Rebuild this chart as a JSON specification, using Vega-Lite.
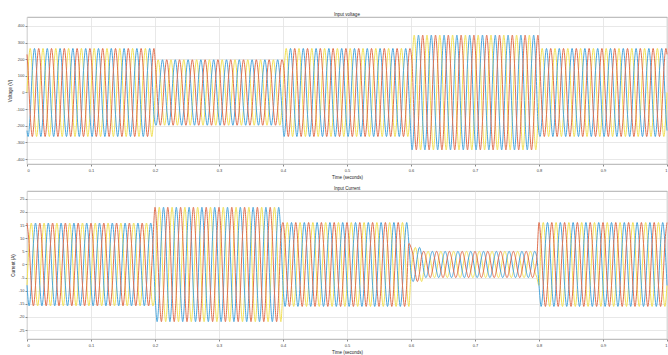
{
"$schema":"https://vega.github.io/schema/vega-lite/v6.json",
"background":"white",
"padding":{"left":7,"top":11,"right":2,"bottom":1},
"spacing":6,
"config":{
"locale":{"number":{"decimal":".","thousands":",","grouping":[3],"currency":["$",""],"minus":"-"}},
"view":{"stroke":"#9a9a9a","strokeWidth":0.8},
"axis":{"labelFont":"Liberation Sans","labelFontSize":4,"labelColor":"#444","titleFont":"Liberation Sans","titleFontSize":4.5,"titleFontWeight":"normal","titleColor":"#222","gridColor":"#e2e2e2","gridWidth":0.8,"domain":false,"tickColor":"#888","tickSize":2,"labelPadding":1},
"title":{"font":"Liberation Sans","fontSize":4.5,"fontWeight":"normal","color":"#222","offset":1}
},
"datasets":{
"v":[
{"t":0,"a":0,"b":-229,"c":229},
{"t":0.0017,"a":133,"b":-265,"c":133},{"t":0.005,"a":265,"b":-133,"c":-133},{"t":0.0083,"a":133,"b":133,"c":-265},{"t":0.0117,"a":-133,"b":265,"c":-133},{"t":0.015,"a":-265,"b":133,"c":133},{"t":0.0183,"a":-133,"b":-133,"c":265},
{"t":0.0217,"a":133,"b":-265,"c":133},{"t":0.025,"a":265,"b":-133,"c":-133},{"t":0.0283,"a":133,"b":133,"c":-265},{"t":0.0317,"a":-133,"b":265,"c":-133},{"t":0.035,"a":-265,"b":133,"c":133},{"t":0.0383,"a":-133,"b":-133,"c":265},
{"t":0.0417,"a":133,"b":-265,"c":133},{"t":0.045,"a":265,"b":-133,"c":-133},{"t":0.0483,"a":133,"b":133,"c":-265},{"t":0.0517,"a":-133,"b":265,"c":-133},{"t":0.055,"a":-265,"b":133,"c":133},{"t":0.0583,"a":-133,"b":-133,"c":265},
{"t":0.0617,"a":133,"b":-265,"c":133},{"t":0.065,"a":265,"b":-133,"c":-133},{"t":0.0683,"a":133,"b":133,"c":-265},{"t":0.0717,"a":-133,"b":265,"c":-133},{"t":0.075,"a":-265,"b":133,"c":133},{"t":0.0783,"a":-133,"b":-133,"c":265},
{"t":0.0817,"a":133,"b":-265,"c":133},{"t":0.085,"a":265,"b":-133,"c":-133},{"t":0.0883,"a":133,"b":133,"c":-265},{"t":0.0917,"a":-133,"b":265,"c":-133},{"t":0.095,"a":-265,"b":133,"c":133},{"t":0.0983,"a":-133,"b":-133,"c":265},
{"t":0.1017,"a":133,"b":-265,"c":133},{"t":0.105,"a":265,"b":-133,"c":-133},{"t":0.1083,"a":133,"b":133,"c":-265},{"t":0.1117,"a":-133,"b":265,"c":-133},{"t":0.115,"a":-265,"b":133,"c":133},{"t":0.1183,"a":-133,"b":-133,"c":265},
{"t":0.1217,"a":133,"b":-265,"c":133},{"t":0.125,"a":265,"b":-133,"c":-133},{"t":0.1283,"a":133,"b":133,"c":-265},{"t":0.1317,"a":-133,"b":265,"c":-133},{"t":0.135,"a":-265,"b":133,"c":133},{"t":0.1383,"a":-133,"b":-133,"c":265},
{"t":0.1417,"a":133,"b":-265,"c":133},{"t":0.145,"a":265,"b":-133,"c":-133},{"t":0.1483,"a":133,"b":133,"c":-265},{"t":0.1517,"a":-133,"b":265,"c":-133},{"t":0.155,"a":-265,"b":133,"c":133},{"t":0.1583,"a":-133,"b":-133,"c":265},
{"t":0.1617,"a":133,"b":-265,"c":133},{"t":0.165,"a":265,"b":-133,"c":-133},{"t":0.1683,"a":133,"b":133,"c":-265},{"t":0.1717,"a":-133,"b":265,"c":-133},{"t":0.175,"a":-265,"b":133,"c":133},{"t":0.1783,"a":-133,"b":-133,"c":265},
{"t":0.1817,"a":133,"b":-265,"c":133},{"t":0.185,"a":265,"b":-133,"c":-133},{"t":0.1883,"a":133,"b":133,"c":-265},{"t":0.1917,"a":-133,"b":265,"c":-133},{"t":0.195,"a":-265,"b":133,"c":133},{"t":0.1983,"a":-133,"b":-133,"c":265},
{"t":0.2017,"a":99,"b":-197,"c":99},{"t":0.205,"a":197,"b":-99,"c":-99},{"t":0.2083,"a":99,"b":99,"c":-197},{"t":0.2117,"a":-99,"b":197,"c":-99},{"t":0.215,"a":-197,"b":99,"c":99},{"t":0.2183,"a":-99,"b":-99,"c":197},
{"t":0.2217,"a":99,"b":-197,"c":99},{"t":0.225,"a":197,"b":-99,"c":-99},{"t":0.2283,"a":99,"b":99,"c":-197},{"t":0.2317,"a":-99,"b":197,"c":-99},{"t":0.235,"a":-197,"b":99,"c":99},{"t":0.2383,"a":-99,"b":-99,"c":197},
{"t":0.2417,"a":99,"b":-197,"c":99},{"t":0.245,"a":197,"b":-99,"c":-99},{"t":0.2483,"a":99,"b":99,"c":-197},{"t":0.2517,"a":-99,"b":197,"c":-99},{"t":0.255,"a":-197,"b":99,"c":99},{"t":0.2583,"a":-99,"b":-99,"c":197},
{"t":0.2617,"a":99,"b":-197,"c":99},{"t":0.265,"a":197,"b":-99,"c":-99},{"t":0.2683,"a":99,"b":99,"c":-197},{"t":0.2717,"a":-99,"b":197,"c":-99},{"t":0.275,"a":-197,"b":99,"c":99},{"t":0.2783,"a":-99,"b":-99,"c":197},
{"t":0.2817,"a":99,"b":-197,"c":99},{"t":0.285,"a":197,"b":-99,"c":-99},{"t":0.2883,"a":99,"b":99,"c":-197},{"t":0.2917,"a":-99,"b":197,"c":-99},{"t":0.295,"a":-197,"b":99,"c":99},{"t":0.2983,"a":-99,"b":-99,"c":197},
{"t":0.3017,"a":99,"b":-197,"c":99},{"t":0.305,"a":197,"b":-99,"c":-99},{"t":0.3083,"a":99,"b":99,"c":-197},{"t":0.3117,"a":-99,"b":197,"c":-99},{"t":0.315,"a":-197,"b":99,"c":99},{"t":0.3183,"a":-99,"b":-99,"c":197},
{"t":0.3217,"a":99,"b":-197,"c":99},{"t":0.325,"a":197,"b":-99,"c":-99},{"t":0.3283,"a":99,"b":99,"c":-197},{"t":0.3317,"a":-99,"b":197,"c":-99},{"t":0.335,"a":-197,"b":99,"c":99},{"t":0.3383,"a":-99,"b":-99,"c":197},
{"t":0.3417,"a":99,"b":-197,"c":99},{"t":0.345,"a":197,"b":-99,"c":-99},{"t":0.3483,"a":99,"b":99,"c":-197},{"t":0.3517,"a":-99,"b":197,"c":-99},{"t":0.355,"a":-197,"b":99,"c":99},{"t":0.3583,"a":-99,"b":-99,"c":197},
{"t":0.3617,"a":99,"b":-197,"c":99},{"t":0.365,"a":197,"b":-99,"c":-99},{"t":0.3683,"a":99,"b":99,"c":-197},{"t":0.3717,"a":-99,"b":197,"c":-99},{"t":0.375,"a":-197,"b":99,"c":99},{"t":0.3783,"a":-99,"b":-99,"c":197},
{"t":0.3817,"a":99,"b":-197,"c":99},{"t":0.385,"a":197,"b":-99,"c":-99},{"t":0.3883,"a":99,"b":99,"c":-197},{"t":0.3917,"a":-99,"b":197,"c":-99},{"t":0.395,"a":-197,"b":99,"c":99},{"t":0.3983,"a":-99,"b":-99,"c":197},
{"t":0.4017,"a":133,"b":-265,"c":133},{"t":0.405,"a":265,"b":-133,"c":-133},{"t":0.4083,"a":133,"b":133,"c":-265},{"t":0.4117,"a":-133,"b":265,"c":-133},{"t":0.415,"a":-265,"b":133,"c":133},{"t":0.4183,"a":-133,"b":-133,"c":265},
{"t":0.4217,"a":133,"b":-265,"c":133},{"t":0.425,"a":265,"b":-133,"c":-133},{"t":0.4283,"a":133,"b":133,"c":-265},{"t":0.4317,"a":-133,"b":265,"c":-133},{"t":0.435,"a":-265,"b":133,"c":133},{"t":0.4383,"a":-133,"b":-133,"c":265},
{"t":0.4417,"a":133,"b":-265,"c":133},{"t":0.445,"a":265,"b":-133,"c":-133},{"t":0.4483,"a":133,"b":133,"c":-265},{"t":0.4517,"a":-133,"b":265,"c":-133},{"t":0.455,"a":-265,"b":133,"c":133},{"t":0.4583,"a":-133,"b":-133,"c":265},
{"t":0.4617,"a":133,"b":-265,"c":133},{"t":0.465,"a":265,"b":-133,"c":-133},{"t":0.4683,"a":133,"b":133,"c":-265},{"t":0.4717,"a":-133,"b":265,"c":-133},{"t":0.475,"a":-265,"b":133,"c":133},{"t":0.4783,"a":-133,"b":-133,"c":265},
{"t":0.4817,"a":133,"b":-265,"c":133},{"t":0.485,"a":265,"b":-133,"c":-133},{"t":0.4883,"a":133,"b":133,"c":-265},{"t":0.4917,"a":-133,"b":265,"c":-133},{"t":0.495,"a":-265,"b":133,"c":133},{"t":0.4983,"a":-133,"b":-133,"c":265},
{"t":0.5017,"a":133,"b":-265,"c":133},{"t":0.505,"a":265,"b":-133,"c":-133},{"t":0.5083,"a":133,"b":133,"c":-265},{"t":0.5117,"a":-133,"b":265,"c":-133},{"t":0.515,"a":-265,"b":133,"c":133},{"t":0.5183,"a":-133,"b":-133,"c":265},
{"t":0.5217,"a":133,"b":-265,"c":133},{"t":0.525,"a":265,"b":-133,"c":-133},{"t":0.5283,"a":133,"b":133,"c":-265},{"t":0.5317,"a":-133,"b":265,"c":-133},{"t":0.535,"a":-265,"b":133,"c":133},{"t":0.5383,"a":-133,"b":-133,"c":265},
{"t":0.5417,"a":133,"b":-265,"c":133},{"t":0.545,"a":265,"b":-133,"c":-133},{"t":0.5483,"a":133,"b":133,"c":-265},{"t":0.5517,"a":-133,"b":265,"c":-133},{"t":0.555,"a":-265,"b":133,"c":133},{"t":0.5583,"a":-133,"b":-133,"c":265},
{"t":0.5617,"a":133,"b":-265,"c":133},{"t":0.565,"a":265,"b":-133,"c":-133},{"t":0.5683,"a":133,"b":133,"c":-265},{"t":0.5717,"a":-133,"b":265,"c":-133},{"t":0.575,"a":-265,"b":133,"c":133},{"t":0.5783,"a":-133,"b":-133,"c":265},
{"t":0.5817,"a":133,"b":-265,"c":133},{"t":0.585,"a":265,"b":-133,"c":-133},{"t":0.5883,"a":133,"b":133,"c":-265},{"t":0.5917,"a":-133,"b":265,"c":-133},{"t":0.595,"a":-265,"b":133,"c":133},{"t":0.5983,"a":-133,"b":-133,"c":265},
{"t":0.6017,"a":173,"b":-345,"c":173},{"t":0.605,"a":345,"b":-173,"c":-173},{"t":0.6083,"a":173,"b":173,"c":-345},{"t":0.6117,"a":-173,"b":345,"c":-173},{"t":0.615,"a":-345,"b":173,"c":173},{"t":0.6183,"a":-173,"b":-173,"c":345},
{"t":0.6217,"a":173,"b":-345,"c":173},{"t":0.625,"a":345,"b":-173,"c":-173},{"t":0.6283,"a":173,"b":173,"c":-345},{"t":0.6317,"a":-173,"b":345,"c":-173},{"t":0.635,"a":-345,"b":173,"c":173},{"t":0.6383,"a":-173,"b":-173,"c":345},
{"t":0.6417,"a":173,"b":-345,"c":173},{"t":0.645,"a":345,"b":-173,"c":-173},{"t":0.6483,"a":173,"b":173,"c":-345},{"t":0.6517,"a":-173,"b":345,"c":-173},{"t":0.655,"a":-345,"b":173,"c":173},{"t":0.6583,"a":-173,"b":-173,"c":345},
{"t":0.6617,"a":173,"b":-345,"c":173},{"t":0.665,"a":345,"b":-173,"c":-173},{"t":0.6683,"a":173,"b":173,"c":-345},{"t":0.6717,"a":-173,"b":345,"c":-173},{"t":0.675,"a":-345,"b":173,"c":173},{"t":0.6783,"a":-173,"b":-173,"c":345},
{"t":0.6817,"a":173,"b":-345,"c":173},{"t":0.685,"a":345,"b":-173,"c":-173},{"t":0.6883,"a":173,"b":173,"c":-345},{"t":0.6917,"a":-173,"b":345,"c":-173},{"t":0.695,"a":-345,"b":173,"c":173},{"t":0.6983,"a":-173,"b":-173,"c":345},
{"t":0.7017,"a":173,"b":-345,"c":173},{"t":0.705,"a":345,"b":-173,"c":-173},{"t":0.7083,"a":173,"b":173,"c":-345},{"t":0.7117,"a":-173,"b":345,"c":-173},{"t":0.715,"a":-345,"b":173,"c":173},{"t":0.7183,"a":-173,"b":-173,"c":345},
{"t":0.7217,"a":173,"b":-345,"c":173},{"t":0.725,"a":345,"b":-173,"c":-173},{"t":0.7283,"a":173,"b":173,"c":-345},{"t":0.7317,"a":-173,"b":345,"c":-173},{"t":0.735,"a":-345,"b":173,"c":173},{"t":0.7383,"a":-173,"b":-173,"c":345},
{"t":0.7417,"a":173,"b":-345,"c":173},{"t":0.745,"a":345,"b":-173,"c":-173},{"t":0.7483,"a":173,"b":173,"c":-345},{"t":0.7517,"a":-173,"b":345,"c":-173},{"t":0.755,"a":-345,"b":173,"c":173},{"t":0.7583,"a":-173,"b":-173,"c":345},
{"t":0.7617,"a":173,"b":-345,"c":173},{"t":0.765,"a":345,"b":-173,"c":-173},{"t":0.7683,"a":173,"b":173,"c":-345},{"t":0.7717,"a":-173,"b":345,"c":-173},{"t":0.775,"a":-345,"b":173,"c":173},{"t":0.7783,"a":-173,"b":-173,"c":345},
{"t":0.7817,"a":173,"b":-345,"c":173},{"t":0.785,"a":345,"b":-173,"c":-173},{"t":0.7883,"a":173,"b":173,"c":-345},{"t":0.7917,"a":-173,"b":345,"c":-173},{"t":0.795,"a":-345,"b":173,"c":173},{"t":0.7983,"a":-173,"b":-173,"c":345},
{"t":0.8017,"a":133,"b":-265,"c":133},{"t":0.805,"a":265,"b":-133,"c":-133},{"t":0.8083,"a":133,"b":133,"c":-265},{"t":0.8117,"a":-133,"b":265,"c":-133},{"t":0.815,"a":-265,"b":133,"c":133},{"t":0.8183,"a":-133,"b":-133,"c":265},
{"t":0.8217,"a":133,"b":-265,"c":133},{"t":0.825,"a":265,"b":-133,"c":-133},{"t":0.8283,"a":133,"b":133,"c":-265},{"t":0.8317,"a":-133,"b":265,"c":-133},{"t":0.835,"a":-265,"b":133,"c":133},{"t":0.8383,"a":-133,"b":-133,"c":265},
{"t":0.8417,"a":133,"b":-265,"c":133},{"t":0.845,"a":265,"b":-133,"c":-133},{"t":0.8483,"a":133,"b":133,"c":-265},{"t":0.8517,"a":-133,"b":265,"c":-133},{"t":0.855,"a":-265,"b":133,"c":133},{"t":0.8583,"a":-133,"b":-133,"c":265},
{"t":0.8617,"a":133,"b":-265,"c":133},{"t":0.865,"a":265,"b":-133,"c":-133},{"t":0.8683,"a":133,"b":133,"c":-265},{"t":0.8717,"a":-133,"b":265,"c":-133},{"t":0.875,"a":-265,"b":133,"c":133},{"t":0.8783,"a":-133,"b":-133,"c":265},
{"t":0.8817,"a":133,"b":-265,"c":133},{"t":0.885,"a":265,"b":-133,"c":-133},{"t":0.8883,"a":133,"b":133,"c":-265},{"t":0.8917,"a":-133,"b":265,"c":-133},{"t":0.895,"a":-265,"b":133,"c":133},{"t":0.8983,"a":-133,"b":-133,"c":265},
{"t":0.9017,"a":133,"b":-265,"c":133},{"t":0.905,"a":265,"b":-133,"c":-133},{"t":0.9083,"a":133,"b":133,"c":-265},{"t":0.9117,"a":-133,"b":265,"c":-133},{"t":0.915,"a":-265,"b":133,"c":133},{"t":0.9183,"a":-133,"b":-133,"c":265},
{"t":0.9217,"a":133,"b":-265,"c":133},{"t":0.925,"a":265,"b":-133,"c":-133},{"t":0.9283,"a":133,"b":133,"c":-265},{"t":0.9317,"a":-133,"b":265,"c":-133},{"t":0.935,"a":-265,"b":133,"c":133},{"t":0.9383,"a":-133,"b":-133,"c":265},
{"t":0.9417,"a":133,"b":-265,"c":133},{"t":0.945,"a":265,"b":-133,"c":-133},{"t":0.9483,"a":133,"b":133,"c":-265},{"t":0.9517,"a":-133,"b":265,"c":-133},{"t":0.955,"a":-265,"b":133,"c":133},{"t":0.9583,"a":-133,"b":-133,"c":265},
{"t":0.9617,"a":133,"b":-265,"c":133},{"t":0.965,"a":265,"b":-133,"c":-133},{"t":0.9683,"a":133,"b":133,"c":-265},{"t":0.9717,"a":-133,"b":265,"c":-133},{"t":0.975,"a":-265,"b":133,"c":133},{"t":0.9783,"a":-133,"b":-133,"c":265},
{"t":0.9817,"a":133,"b":-265,"c":133},{"t":0.985,"a":265,"b":-133,"c":-133},{"t":0.9883,"a":133,"b":133,"c":-265},{"t":0.9917,"a":-133,"b":265,"c":-133},{"t":0.995,"a":-265,"b":133,"c":133},{"t":0.9983,"a":-133,"b":-133,"c":265},
{"t":1,"a":0,"b":-229,"c":229}
],
"i":[
{"t":0,"a":-7.9,"b":-7.9,"c":15.8},{"t":0.0033,"a":7.9,"b":-15.8,"c":7.9},{"t":0.0067,"a":15.8,"b":-7.9,"c":-7.9},{"t":0.01,"a":7.9,"b":7.9,"c":-15.8},{"t":0.0133,"a":-7.9,"b":15.8,"c":-7.9},{"t":0.0167,"a":-15.8,"b":7.9,"c":7.9},
{"t":0.02,"a":-7.9,"b":-7.9,"c":15.8},{"t":0.0233,"a":7.9,"b":-15.8,"c":7.9},{"t":0.0267,"a":15.8,"b":-7.9,"c":-7.9},{"t":0.03,"a":7.9,"b":7.9,"c":-15.8},{"t":0.0333,"a":-7.9,"b":15.8,"c":-7.9},{"t":0.0367,"a":-15.8,"b":7.9,"c":7.9},
{"t":0.04,"a":-7.9,"b":-7.9,"c":15.8},{"t":0.0433,"a":7.9,"b":-15.8,"c":7.9},{"t":0.0467,"a":15.8,"b":-7.9,"c":-7.9},{"t":0.05,"a":7.9,"b":7.9,"c":-15.8},{"t":0.0533,"a":-7.9,"b":15.8,"c":-7.9},{"t":0.0567,"a":-15.8,"b":7.9,"c":7.9},
{"t":0.06,"a":-7.9,"b":-7.9,"c":15.8},{"t":0.0633,"a":7.9,"b":-15.8,"c":7.9},{"t":0.0667,"a":15.8,"b":-7.9,"c":-7.9},{"t":0.07,"a":7.9,"b":7.9,"c":-15.8},{"t":0.0733,"a":-7.9,"b":15.8,"c":-7.9},{"t":0.0767,"a":-15.8,"b":7.9,"c":7.9},
{"t":0.08,"a":-7.9,"b":-7.9,"c":15.8},{"t":0.0833,"a":7.9,"b":-15.8,"c":7.9},{"t":0.0867,"a":15.8,"b":-7.9,"c":-7.9},{"t":0.09,"a":7.9,"b":7.9,"c":-15.8},{"t":0.0933,"a":-7.9,"b":15.8,"c":-7.9},{"t":0.0967,"a":-15.8,"b":7.9,"c":7.9},
{"t":0.1,"a":-7.9,"b":-7.9,"c":15.8},{"t":0.1033,"a":7.9,"b":-15.8,"c":7.9},{"t":0.1067,"a":15.8,"b":-7.9,"c":-7.9},{"t":0.11,"a":7.9,"b":7.9,"c":-15.8},{"t":0.1133,"a":-7.9,"b":15.8,"c":-7.9},{"t":0.1167,"a":-15.8,"b":7.9,"c":7.9},
{"t":0.12,"a":-7.9,"b":-7.9,"c":15.8},{"t":0.1233,"a":7.9,"b":-15.8,"c":7.9},{"t":0.1267,"a":15.8,"b":-7.9,"c":-7.9},{"t":0.13,"a":7.9,"b":7.9,"c":-15.8},{"t":0.1333,"a":-7.9,"b":15.8,"c":-7.9},{"t":0.1367,"a":-15.8,"b":7.9,"c":7.9},
{"t":0.14,"a":-7.9,"b":-7.9,"c":15.8},{"t":0.1433,"a":7.9,"b":-15.8,"c":7.9},{"t":0.1467,"a":15.8,"b":-7.9,"c":-7.9},{"t":0.15,"a":7.9,"b":7.9,"c":-15.8},{"t":0.1533,"a":-7.9,"b":15.8,"c":-7.9},{"t":0.1567,"a":-15.8,"b":7.9,"c":7.9},
{"t":0.16,"a":-7.9,"b":-7.9,"c":15.8},{"t":0.1633,"a":7.9,"b":-15.8,"c":7.9},{"t":0.1667,"a":15.8,"b":-7.9,"c":-7.9},{"t":0.17,"a":7.9,"b":7.9,"c":-15.8},{"t":0.1733,"a":-7.9,"b":15.8,"c":-7.9},{"t":0.1767,"a":-15.8,"b":7.9,"c":7.9},
{"t":0.18,"a":-7.9,"b":-7.9,"c":15.8},{"t":0.1833,"a":7.9,"b":-15.8,"c":7.9},{"t":0.1867,"a":15.8,"b":-7.9,"c":-7.9},{"t":0.19,"a":7.9,"b":7.9,"c":-15.8},{"t":0.1933,"a":-7.9,"b":15.8,"c":-7.9},{"t":0.1967,"a":-15.8,"b":7.9,"c":7.9},
{"t":0.2,"a":-10.9,"b":-10.9,"c":21.8},{"t":0.2033,"a":10.9,"b":-21.8,"c":10.9},{"t":0.2067,"a":21.8,"b":-10.9,"c":-10.9},{"t":0.21,"a":10.9,"b":10.9,"c":-21.8},{"t":0.2133,"a":-10.9,"b":21.8,"c":-10.9},{"t":0.2167,"a":-21.8,"b":10.9,"c":10.9},
{"t":0.22,"a":-10.9,"b":-10.9,"c":21.8},{"t":0.2233,"a":10.9,"b":-21.8,"c":10.9},{"t":0.2267,"a":21.8,"b":-10.9,"c":-10.9},{"t":0.23,"a":10.9,"b":10.9,"c":-21.8},{"t":0.2333,"a":-10.9,"b":21.8,"c":-10.9},{"t":0.2367,"a":-21.8,"b":10.9,"c":10.9},
{"t":0.24,"a":-10.9,"b":-10.9,"c":21.8},{"t":0.2433,"a":10.9,"b":-21.8,"c":10.9},{"t":0.2467,"a":21.8,"b":-10.9,"c":-10.9},{"t":0.25,"a":10.9,"b":10.9,"c":-21.8},{"t":0.2533,"a":-10.9,"b":21.8,"c":-10.9},{"t":0.2567,"a":-21.8,"b":10.9,"c":10.9},
{"t":0.26,"a":-10.9,"b":-10.9,"c":21.8},{"t":0.2633,"a":10.9,"b":-21.8,"c":10.9},{"t":0.2667,"a":21.8,"b":-10.9,"c":-10.9},{"t":0.27,"a":10.9,"b":10.9,"c":-21.8},{"t":0.2733,"a":-10.9,"b":21.8,"c":-10.9},{"t":0.2767,"a":-21.8,"b":10.9,"c":10.9},
{"t":0.28,"a":-10.9,"b":-10.9,"c":21.8},{"t":0.2833,"a":10.9,"b":-21.8,"c":10.9},{"t":0.2867,"a":21.8,"b":-10.9,"c":-10.9},{"t":0.29,"a":10.9,"b":10.9,"c":-21.8},{"t":0.2933,"a":-10.9,"b":21.8,"c":-10.9},{"t":0.2967,"a":-21.8,"b":10.9,"c":10.9},
{"t":0.3,"a":-10.9,"b":-10.9,"c":21.8},{"t":0.3033,"a":10.9,"b":-21.8,"c":10.9},{"t":0.3067,"a":21.8,"b":-10.9,"c":-10.9},{"t":0.31,"a":10.9,"b":10.9,"c":-21.8},{"t":0.3133,"a":-10.9,"b":21.8,"c":-10.9},{"t":0.3167,"a":-21.8,"b":10.9,"c":10.9},
{"t":0.32,"a":-10.9,"b":-10.9,"c":21.8},{"t":0.3233,"a":10.9,"b":-21.8,"c":10.9},{"t":0.3267,"a":21.8,"b":-10.9,"c":-10.9},{"t":0.33,"a":10.9,"b":10.9,"c":-21.8},{"t":0.3333,"a":-10.9,"b":21.8,"c":-10.9},{"t":0.3367,"a":-21.8,"b":10.9,"c":10.9},
{"t":0.34,"a":-10.9,"b":-10.9,"c":21.8},{"t":0.3433,"a":10.9,"b":-21.8,"c":10.9},{"t":0.3467,"a":21.8,"b":-10.9,"c":-10.9},{"t":0.35,"a":10.9,"b":10.9,"c":-21.8},{"t":0.3533,"a":-10.9,"b":21.8,"c":-10.9},{"t":0.3567,"a":-21.8,"b":10.9,"c":10.9},
{"t":0.36,"a":-10.9,"b":-10.9,"c":21.8},{"t":0.3633,"a":10.9,"b":-21.8,"c":10.9},{"t":0.3667,"a":21.8,"b":-10.9,"c":-10.9},{"t":0.37,"a":10.9,"b":10.9,"c":-21.8},{"t":0.3733,"a":-10.9,"b":21.8,"c":-10.9},{"t":0.3767,"a":-21.8,"b":10.9,"c":10.9},
{"t":0.38,"a":-10.9,"b":-10.9,"c":21.8},{"t":0.3833,"a":10.9,"b":-21.8,"c":10.9},{"t":0.3867,"a":21.8,"b":-10.9,"c":-10.9},{"t":0.39,"a":10.9,"b":10.9,"c":-21.8},{"t":0.3933,"a":-10.9,"b":21.8,"c":-10.9},{"t":0.3967,"a":-21.8,"b":10.9,"c":10.9},
{"t":0.4,"a":-8,"b":-8,"c":16},{"t":0.4033,"a":8,"b":-16,"c":8},{"t":0.4067,"a":16,"b":-8,"c":-8},{"t":0.41,"a":8,"b":8,"c":-16},{"t":0.4133,"a":-8,"b":16,"c":-8},{"t":0.4167,"a":-16,"b":8,"c":8},
{"t":0.42,"a":-8,"b":-8,"c":16},{"t":0.4233,"a":8,"b":-16,"c":8},{"t":0.4267,"a":16,"b":-8,"c":-8},{"t":0.43,"a":8,"b":8,"c":-16},{"t":0.4333,"a":-8,"b":16,"c":-8},{"t":0.4367,"a":-16,"b":8,"c":8},
{"t":0.44,"a":-8,"b":-8,"c":16},{"t":0.4433,"a":8,"b":-16,"c":8},{"t":0.4467,"a":16,"b":-8,"c":-8},{"t":0.45,"a":8,"b":8,"c":-16},{"t":0.4533,"a":-8,"b":16,"c":-8},{"t":0.4567,"a":-16,"b":8,"c":8},
{"t":0.46,"a":-8,"b":-8,"c":16},{"t":0.4633,"a":8,"b":-16,"c":8},{"t":0.4667,"a":16,"b":-8,"c":-8},{"t":0.47,"a":8,"b":8,"c":-16},{"t":0.4733,"a":-8,"b":16,"c":-8},{"t":0.4767,"a":-16,"b":8,"c":8},
{"t":0.48,"a":-8,"b":-8,"c":16},{"t":0.4833,"a":8,"b":-16,"c":8},{"t":0.4867,"a":16,"b":-8,"c":-8},{"t":0.49,"a":8,"b":8,"c":-16},{"t":0.4933,"a":-8,"b":16,"c":-8},{"t":0.4967,"a":-16,"b":8,"c":8},
{"t":0.5,"a":-8,"b":-8,"c":16},{"t":0.5033,"a":8,"b":-16,"c":8},{"t":0.5067,"a":16,"b":-8,"c":-8},{"t":0.51,"a":8,"b":8,"c":-16},{"t":0.5133,"a":-8,"b":16,"c":-8},{"t":0.5167,"a":-16,"b":8,"c":8},
{"t":0.52,"a":-8,"b":-8,"c":16},{"t":0.5233,"a":8,"b":-16,"c":8},{"t":0.5267,"a":16,"b":-8,"c":-8},{"t":0.53,"a":8,"b":8,"c":-16},{"t":0.5333,"a":-8,"b":16,"c":-8},{"t":0.5367,"a":-16,"b":8,"c":8},
{"t":0.54,"a":-8,"b":-8,"c":16},{"t":0.5433,"a":8,"b":-16,"c":8},{"t":0.5467,"a":16,"b":-8,"c":-8},{"t":0.55,"a":8,"b":8,"c":-16},{"t":0.5533,"a":-8,"b":16,"c":-8},{"t":0.5567,"a":-16,"b":8,"c":8},
{"t":0.56,"a":-8,"b":-8,"c":16},{"t":0.5633,"a":8,"b":-16,"c":8},{"t":0.5667,"a":16,"b":-8,"c":-8},{"t":0.57,"a":8,"b":8,"c":-16},{"t":0.5733,"a":-8,"b":16,"c":-8},{"t":0.5767,"a":-16,"b":8,"c":8},
{"t":0.58,"a":-8,"b":-8,"c":16},{"t":0.5833,"a":8,"b":-16,"c":8},{"t":0.5867,"a":16,"b":-8,"c":-8},{"t":0.59,"a":8,"b":8,"c":-16},{"t":0.5933,"a":-8,"b":16,"c":-8},{"t":0.5967,"a":-16,"b":8,"c":8},
{"t":0.6,"a":-3.25,"b":-3.25,"c":6.5},{"t":0.6033,"a":3.25,"b":-6.5,"c":3.25},{"t":0.6067,"a":6.5,"b":-3.25,"c":-3.25},{"t":0.61,"a":3.25,"b":3.25,"c":-6.5},{"t":0.6133,"a":-3.25,"b":6.5,"c":-3.25},{"t":0.6167,"a":-6.5,"b":3.25,"c":3.25},
{"t":0.62,"a":-2.5,"b":-2.5,"c":5},{"t":0.6233,"a":2.5,"b":-5,"c":2.5},{"t":0.6267,"a":5,"b":-2.5,"c":-2.5},{"t":0.63,"a":2.5,"b":2.5,"c":-5},{"t":0.6333,"a":-2.5,"b":5,"c":-2.5},{"t":0.6367,"a":-5,"b":2.5,"c":2.5},
{"t":0.64,"a":-2.5,"b":-2.5,"c":5},{"t":0.6433,"a":2.5,"b":-5,"c":2.5},{"t":0.6467,"a":5,"b":-2.5,"c":-2.5},{"t":0.65,"a":2.5,"b":2.5,"c":-5},{"t":0.6533,"a":-2.5,"b":5,"c":-2.5},{"t":0.6567,"a":-5,"b":2.5,"c":2.5},
{"t":0.66,"a":-2.5,"b":-2.5,"c":5},{"t":0.6633,"a":2.5,"b":-5,"c":2.5},{"t":0.6667,"a":5,"b":-2.5,"c":-2.5},{"t":0.67,"a":2.5,"b":2.5,"c":-5},{"t":0.6733,"a":-2.5,"b":5,"c":-2.5},{"t":0.6767,"a":-5,"b":2.5,"c":2.5},
{"t":0.68,"a":-2.5,"b":-2.5,"c":5},{"t":0.6833,"a":2.5,"b":-5,"c":2.5},{"t":0.6867,"a":5,"b":-2.5,"c":-2.5},{"t":0.69,"a":2.5,"b":2.5,"c":-5},{"t":0.6933,"a":-2.5,"b":5,"c":-2.5},{"t":0.6967,"a":-5,"b":2.5,"c":2.5},
{"t":0.7,"a":-2.5,"b":-2.5,"c":5},{"t":0.7033,"a":2.5,"b":-5,"c":2.5},{"t":0.7067,"a":5,"b":-2.5,"c":-2.5},{"t":0.71,"a":2.5,"b":2.5,"c":-5},{"t":0.7133,"a":-2.5,"b":5,"c":-2.5},{"t":0.7167,"a":-5,"b":2.5,"c":2.5},
{"t":0.72,"a":-2.5,"b":-2.5,"c":5},{"t":0.7233,"a":2.5,"b":-5,"c":2.5},{"t":0.7267,"a":5,"b":-2.5,"c":-2.5},{"t":0.73,"a":2.5,"b":2.5,"c":-5},{"t":0.7333,"a":-2.5,"b":5,"c":-2.5},{"t":0.7367,"a":-5,"b":2.5,"c":2.5},
{"t":0.74,"a":-2.5,"b":-2.5,"c":5},{"t":0.7433,"a":2.5,"b":-5,"c":2.5},{"t":0.7467,"a":5,"b":-2.5,"c":-2.5},{"t":0.75,"a":2.5,"b":2.5,"c":-5},{"t":0.7533,"a":-2.5,"b":5,"c":-2.5},{"t":0.7567,"a":-5,"b":2.5,"c":2.5},
{"t":0.76,"a":-2.5,"b":-2.5,"c":5},{"t":0.7633,"a":2.5,"b":-5,"c":2.5},{"t":0.7667,"a":5,"b":-2.5,"c":-2.5},{"t":0.77,"a":2.5,"b":2.5,"c":-5},{"t":0.7733,"a":-2.5,"b":5,"c":-2.5},{"t":0.7767,"a":-5,"b":2.5,"c":2.5},
{"t":0.78,"a":-2.5,"b":-2.5,"c":5},{"t":0.7833,"a":2.5,"b":-5,"c":2.5},{"t":0.7867,"a":5,"b":-2.5,"c":-2.5},{"t":0.79,"a":2.5,"b":2.5,"c":-5},{"t":0.7933,"a":-2.5,"b":5,"c":-2.5},{"t":0.7967,"a":-5,"b":2.5,"c":2.5},
{"t":0.8,"a":-8,"b":-8,"c":16},{"t":0.8033,"a":8,"b":-16,"c":8},{"t":0.8067,"a":16,"b":-8,"c":-8},{"t":0.81,"a":8,"b":8,"c":-16},{"t":0.8133,"a":-8,"b":16,"c":-8},{"t":0.8167,"a":-16,"b":8,"c":8},
{"t":0.82,"a":-8,"b":-8,"c":16},{"t":0.8233,"a":8,"b":-16,"c":8},{"t":0.8267,"a":16,"b":-8,"c":-8},{"t":0.83,"a":8,"b":8,"c":-16},{"t":0.8333,"a":-8,"b":16,"c":-8},{"t":0.8367,"a":-16,"b":8,"c":8},
{"t":0.84,"a":-8,"b":-8,"c":16},{"t":0.8433,"a":8,"b":-16,"c":8},{"t":0.8467,"a":16,"b":-8,"c":-8},{"t":0.85,"a":8,"b":8,"c":-16},{"t":0.8533,"a":-8,"b":16,"c":-8},{"t":0.8567,"a":-16,"b":8,"c":8},
{"t":0.86,"a":-8,"b":-8,"c":16},{"t":0.8633,"a":8,"b":-16,"c":8},{"t":0.8667,"a":16,"b":-8,"c":-8},{"t":0.87,"a":8,"b":8,"c":-16},{"t":0.8733,"a":-8,"b":16,"c":-8},{"t":0.8767,"a":-16,"b":8,"c":8},
{"t":0.88,"a":-8,"b":-8,"c":16},{"t":0.8833,"a":8,"b":-16,"c":8},{"t":0.8867,"a":16,"b":-8,"c":-8},{"t":0.89,"a":8,"b":8,"c":-16},{"t":0.8933,"a":-8,"b":16,"c":-8},{"t":0.8967,"a":-16,"b":8,"c":8},
{"t":0.9,"a":-8,"b":-8,"c":16},{"t":0.9033,"a":8,"b":-16,"c":8},{"t":0.9067,"a":16,"b":-8,"c":-8},{"t":0.91,"a":8,"b":8,"c":-16},{"t":0.9133,"a":-8,"b":16,"c":-8},{"t":0.9167,"a":-16,"b":8,"c":8},
{"t":0.92,"a":-8,"b":-8,"c":16},{"t":0.9233,"a":8,"b":-16,"c":8},{"t":0.9267,"a":16,"b":-8,"c":-8},{"t":0.93,"a":8,"b":8,"c":-16},{"t":0.9333,"a":-8,"b":16,"c":-8},{"t":0.9367,"a":-16,"b":8,"c":8},
{"t":0.94,"a":-8,"b":-8,"c":16},{"t":0.9433,"a":8,"b":-16,"c":8},{"t":0.9467,"a":16,"b":-8,"c":-8},{"t":0.95,"a":8,"b":8,"c":-16},{"t":0.9533,"a":-8,"b":16,"c":-8},{"t":0.9567,"a":-16,"b":8,"c":8},
{"t":0.96,"a":-8,"b":-8,"c":16},{"t":0.9633,"a":8,"b":-16,"c":8},{"t":0.9667,"a":16,"b":-8,"c":-8},{"t":0.97,"a":8,"b":8,"c":-16},{"t":0.9733,"a":-8,"b":16,"c":-8},{"t":0.9767,"a":-16,"b":8,"c":8},
{"t":0.98,"a":-8,"b":-8,"c":16},{"t":0.9833,"a":8,"b":-16,"c":8},{"t":0.9867,"a":16,"b":-8,"c":-8},{"t":0.99,"a":8,"b":8,"c":-16},{"t":0.9933,"a":-8,"b":16,"c":-8},{"t":0.9967,"a":-16,"b":8,"c":8},
{"t":1,"a":-8,"b":-8,"c":16}
]
},
"vconcat":[
{
"title":"Input voltage",
"width":640,"height":147,
"data":{"name":"v"},
"transform":[{"fold":["a","b","c"],"as":["p","y"]}],
"mark":{"type":"line","interpolate":"monotone","strokeWidth":1},
"encoding":{
"x":{"field":"t","type":"quantitative","scale":{"domain":[0,1],"nice":false},"axis":{"title":"Time (seconds)","format":"~g","values":[0,0.1,0.2,0.3,0.4,0.5,0.6,0.7,0.8,0.9,1],"labelPadding":2,"titlePadding":2}},
"y":{"field":"y","type":"quantitative","scale":{"domain":[-430,454],"nice":false},"axis":{"title":"Voltage (V)","values":[-400,-300,-200,-100,0,100,200,300,400],"titlePadding":3}},
"color":{"field":"p","type":"nominal","scale":{"domain":["a","b","c"],"range":["#f2e055","#4aa6dc","#e07050"]},"legend":null}
}
},
{
"title":"Input Current",
"width":640,"height":148,
"data":{"name":"i"},
"transform":[{"fold":["a","b","c"],"as":["p","y"]}],
"mark":{"type":"line","interpolate":"monotone","strokeWidth":1},
"encoding":{
"x":{"field":"t","type":"quantitative","scale":{"domain":[0,1],"nice":false},"axis":{"title":"Time (seconds)","format":"~g","values":[0,0.1,0.2,0.3,0.4,0.5,0.6,0.7,0.8,0.9,1],"labelPadding":2,"titlePadding":2}},
"y":{"field":"y","type":"quantitative","scale":{"domain":[-28.4,28],"nice":false},"axis":{"title":"Current (A)","values":[-25,-20,-15,-10,-5,0,5,10,15,20,25],"titlePadding":3}},
"color":{"field":"p","type":"nominal","scale":{"domain":["a","b","c"],"range":["#f2e055","#4aa6dc","#e07050"]},"legend":null}
}
}
]
}
